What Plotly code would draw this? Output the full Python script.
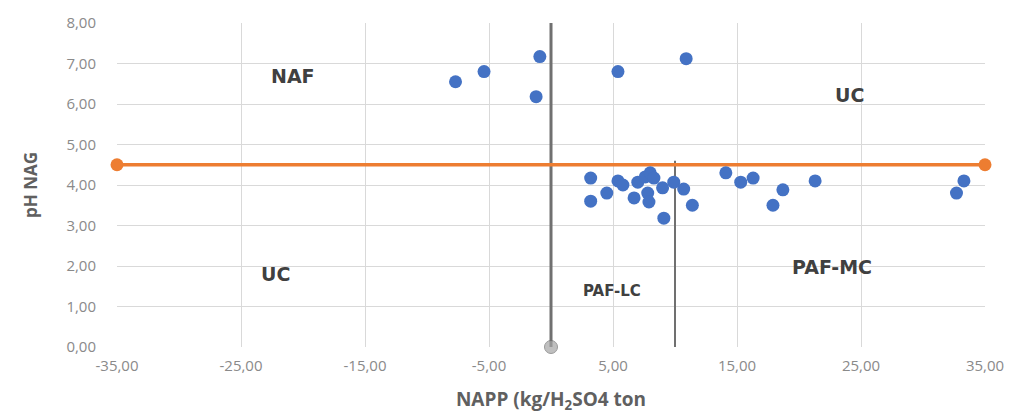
import plotly.graph_objects as go

# Sample points: NAPP (kg H2SO4/ton) vs pH NAG
napp = [-7.7, -5.4, -0.9, -1.2, 5.4, 10.9,
        3.2, 3.2, 4.5, 5.4, 5.8, 6.7, 7.0, 7.6, 8.0, 8.3, 7.8, 7.9, 9.0, 9.1,
        9.9, 10.7, 11.4, 14.1, 15.3, 16.3, 17.9, 18.7, 21.3, 32.7, 33.3]
ph_nag = [6.55, 6.8, 7.17, 6.18, 6.8, 7.12,
          4.17, 3.6, 3.8, 4.1, 4.0, 3.68, 4.07, 4.2, 4.3, 4.17, 3.8, 3.58, 3.93, 3.18,
          4.07, 3.9, 3.5, 4.3, 4.07, 4.17, 3.5, 3.88, 4.1, 3.8, 4.1]

# Threshold lines
ph_limit_x = [-35, 35]
ph_limit_y = [4.5, 4.5]
napp0_x = [0, 0]
napp0_y = [0, 8]
napp10_x = [10, 10]
napp10_y = [0, 4.6]

# Zone labels
zone_text = ["NAF", "UC", "UC", "PAF-LC", "PAF-MC"]
zone_x = [-20.8, 24.1, -22.2, 4.9, 22.7]
zone_y = [6.69, 6.22, 1.80, 1.38, 1.98]
zone_size = [19, 19, 19, 15, 19]

x_ticks = [-35, -25, -15, -5, 5, 15, 25, 35]
x_tick_labels = ["-35,00", "-25,00", "-15,00", "-5,00", "5,00", "15,00", "25,00", "35,00"]
y_ticks = [0, 1, 2, 3, 4, 5, 6, 7, 8]
y_tick_labels = ["0,00", "1,00", "2,00", "3,00", "4,00", "5,00", "6,00", "7,00", "8,00"]

fig = go.Figure()

fig.add_trace(go.Scatter(x=napp0_x, y=napp0_y, mode="lines+markers",
                         line=dict(color="#707070", width=3),
                         marker=dict(color="#a5a5a5", size=[13, 0]),
                         cliponaxis=False, showlegend=False))
fig.add_trace(go.Scatter(x=napp10_x, y=napp10_y, mode="lines",
                         line=dict(color="#707070", width=2),
                         showlegend=False))
fig.add_trace(go.Scatter(x=ph_limit_x, y=ph_limit_y, mode="lines+markers",
                         line=dict(color="#ED7D31", width=3.5),
                         marker=dict(color="#ED7D31", size=13),
                         cliponaxis=False, showlegend=False))
fig.add_trace(go.Scatter(x=napp, y=ph_nag, mode="markers",
                         marker=dict(color="#4472C4", size=13),
                         showlegend=False))

for t, xv, yv, s in zip(zone_text, zone_x, zone_y, zone_size):
    fig.add_annotation(x=xv, y=yv, text="<b>" + t + "</b>", showarrow=False,
                       font=dict(size=s, color="#404040", family="DejaVu Sans"))

fig.update_layout(
    width=1009, height=406,
    margin=dict(l=109, r=32, t=15, b=67),
    paper_bgcolor="white", plot_bgcolor="white",
    font=dict(family="Open Sans", color="#8a8a8a", size=15),
    xaxis=dict(range=[-35, 35], tickvals=x_ticks, ticktext=x_tick_labels,
               showgrid=True, gridcolor="#d9d9d9", gridwidth=1, zeroline=False,
               showline=False, ticks="", automargin=False, ticklabelstandoff=8,
               title=dict(text="<b>NAPP (kg/H<sub>2</sub>SO4 ton</b>",
                          font=dict(size=19, color="#606060"), standoff=26)),
    yaxis=dict(range=[0, 8], tickvals=y_ticks, ticktext=y_tick_labels,
               showgrid=True, gridcolor="#d9d9d9", gridwidth=1, zeroline=False,
               showline=False, ticks="", automargin=False, ticklabelstandoff=20,
               title=dict(text="<b>pH NAG</b>", font=dict(size=17, color="#606060"),
                          standoff=24)),
)

fig.write_html("out.html")
